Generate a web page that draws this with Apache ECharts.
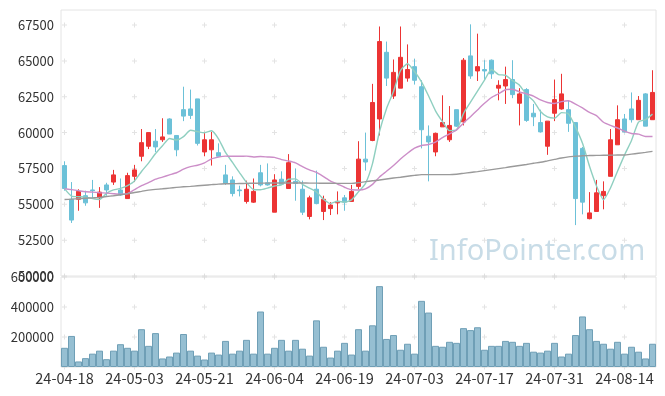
<!DOCTYPE html>
<html><head><meta charset="utf-8">
<script src="https://cdn.jsdelivr.net/npm/echarts@6/dist/echarts.min.js"></script>
<style>html,body{margin:0;padding:0;background:#fff}#c{width:665px;height:396px}</style>
</head><body><div id="c"></div>
<script>
const dates = ['24-04-18','24-04-19','24-04-22','24-04-23','24-04-24','24-04-25','24-04-26','24-04-29','24-04-30','24-05-02',
'24-05-03','24-05-07','24-05-08','24-05-09','24-05-10','24-05-13','24-05-14','24-05-16','24-05-17','24-05-20',
'24-05-21','24-05-22','24-05-23','24-05-24','24-05-27','24-05-28','24-05-29','24-05-30','24-05-31','24-06-03',
'24-06-04','24-06-05','24-06-07','24-06-10','24-06-11','24-06-12','24-06-13','24-06-14','24-06-17','24-06-18',
'24-06-19','24-06-20','24-06-21','24-06-24','24-06-25','24-06-26','24-06-27','24-06-28','24-07-01','24-07-02',
'24-07-03','24-07-04','24-07-05','24-07-08','24-07-09','24-07-10','24-07-11','24-07-12','24-07-15','24-07-16',
'24-07-17','24-07-18','24-07-19','24-07-22','24-07-23','24-07-24','24-07-25','24-07-26','24-07-29','24-07-30',
'24-07-31','24-08-01','24-08-02','24-08-05','24-08-06','24-08-07','24-08-08','24-08-09','24-08-12','24-08-13',
'24-08-14','24-08-16','24-08-19','24-08-20','24-08-21'];

const openP = [57700,55350,55350,55600,56000,55450,56350,56550,56000,55400,
56950,58350,59050,59400,59500,60950,59800,61600,61650,62350,
58650,58800,58600,57050,56700,56000,55200,55150,57200,56500,
54450,56750,56100,56600,56050,54150,56050,54500,54700,55100,
55450,55200,56250,58150,59450,60950,65600,62550,63100,63800,
64600,63200,59750,58650,60400,59500,61600,60750,65350,64300,
64400,65050,63100,63250,63700,62050,63000,61350,60700,59050,
61350,61650,61600,60700,58900,54000,54500,55600,56950,59150,
60950,61650,60900,62700,60900];
const closeP = [56100,53900,55900,55100,55950,55850,56000,57050,55650,57000,
57400,59300,60000,59000,59700,59900,58800,61150,61200,59250,
59500,59500,58350,56450,55750,55950,56050,55900,56350,56350,
56700,56400,57900,56450,54450,55450,55050,55350,54950,55200,
55150,55900,58150,57950,62100,66350,63800,64200,65250,64400,
63650,60200,59350,59950,60700,60500,60450,65050,63950,64600,
64300,64100,63300,63700,62650,62700,60850,61100,60050,60800,
62300,62700,60650,55400,55150,54400,55800,55900,59500,60900,
60050,60900,62250,60450,62800];
const lowP = [55950,53700,54550,54900,55400,54750,55600,56350,55600,55400,
56550,58000,58850,58650,59350,59900,58350,60800,60950,59100,
58350,57700,58350,56350,55550,55550,55050,55100,56250,56300,
54450,56400,56100,55250,54250,53950,55000,53900,54250,54300,
54550,55200,56050,57350,59400,59800,63250,62350,63100,63550,
63350,58900,56600,58350,60400,59350,60400,60500,63750,63600,
63650,63750,62250,62000,62400,60500,60750,60450,60000,58450,
60800,61600,60050,53550,54300,53950,54500,54650,56950,59150,
60000,60700,60900,60450,60900];
const highP = [58000,56550,56050,55950,56700,56200,56500,57400,56800,57200,
57750,60250,60000,60250,61000,61000,59800,63200,63000,62350,
60050,60050,59250,57750,56950,56300,56650,56800,57750,57850,
57100,57300,58500,57500,56650,55600,57350,55600,55150,55900,
55650,56350,59400,60000,63400,67400,66350,65100,67400,66150,
65150,63650,60500,60000,62600,61850,61600,65200,67550,66900,
65050,65100,63650,64600,65050,63100,63100,62000,61600,60800,
63700,64100,62200,60700,59000,55850,56700,56600,60250,61900,
61300,62800,62550,62750,64350];

const volume = [128000,207000,37000,59000,89000,109000,52000,109000,152000,128000,
109000,252000,141000,226000,57000,70000,96000,220000,109000,76000,
50000,96000,83000,174000,89000,109000,181000,89000,370000,89000,
128000,181000,109000,181000,122000,76000,311000,135000,63000,109000,
161000,83000,252000,109000,278000,539000,187000,213000,115000,155000,
89000,441000,363000,141000,135000,168000,161000,259000,246000,265000,
115000,141000,141000,174000,168000,141000,161000,102000,96000,109000,
161000,70000,89000,213000,337000,252000,174000,155000,122000,168000,
89000,135000,102000,57000,155000];

const ma5 = [56090,55570,55530,55500,55400,55340,55760,56000,56110,56310,
56630,57290,57870,58540,59090,59590,59480,59720,60160,60070,
59990,60130,59570,58620,57920,57210,56520,56030,56010,56130,
56280,56350,56750,56770,56390,56130,55860,55350,55050,55210,
55150,55310,55870,56460,57840,60080,61670,62870,64330,64800,
64260,63540,62570,61520,60770,60140,60190,61330,62120,62900,
63660,64400,64050,64000,63620,63310,62650,62210,61470,61090,
61010,61390,61300,60380,59250,57660,56280,55320,56140,57300,
58430,59450,60730,60910,61290];
const ma20 = [56090,56020,55950,55880,55850,55810,55780,55740,55710,55740,
56020,56300,56510,56750,56900,57050,57200,57450,57630,57720,
57890,58170,58290,58360,58350,58350,58360,58300,58330,58300,
58270,58120,58020,57890,57630,57400,57220,56930,56620,56410,
56190,56010,56000,56080,56390,56910,57300,57710,58160,58560,
58910,59100,59170,59340,59650,59910,60180,60660,61110,61580,
62040,62450,62710,62990,63020,62840,62700,62540,62280,62100,
62030,62160,62220,61990,61720,61410,61180,60720,60500,60320,
60100,59940,59890,59730,59730];
const ma60 = [55330,55360,55390,55420,55450,55480,55540,55600,55670,55730,
55820,55900,55990,56040,56080,56130,56180,56220,56250,56290,
56330,56370,56410,56430,56440,56450,56460,56470,56475,56480,
56485,56490,56490,56490,56485,56480,56475,56470,56465,56460,
56460,56460,56510,56580,56640,56690,56760,56830,56890,56960,
57020,57070,57070,57070,57070,57070,57100,57160,57220,57280,
57350,57420,57490,57560,57640,57710,57780,57860,57930,58030,
58130,58230,58310,58350,58390,58400,58410,58420,58430,58435,
58440,58500,58560,58620,58690];

const priceTicks = [50000,52500,55000,57500,60000,62500,65000,67500];
const volumeTicks = [0,200000,400000,600000];
const labelEvery = 10;

const FONT = '"Noto Sans CJK KR", "Noto Sans", sans-serif';
const candle = dates.map((d, i) => [openP[i], closeP[i], lowP[i], highP[i]]);
const crossCats = dates.map((d, i) => i).filter(i => i % labelEvery === 0);
const priceCross = [];
crossCats.forEach(c => priceTicks.forEach(v => priceCross.push([c, v])));
const volCross = [];
crossCats.forEach(c => volumeTicks.forEach(v => volCross.push([c, v])));

const crossSymbol = 'path://M2,0h1v5h-1z M0,2h5v1h-5z';
const chart = echarts.init(document.getElementById('c'), null, {renderer: 'canvas'});
chart.setOption({
  animation: false,
  backgroundColor: '#fff',
  textStyle: {fontFamily: FONT},
  graphic: [{
    type: 'text', left: 429, top: 237, z: 0, silent: true,
    style: {text: 'InfoPointer.com', font: '29px "Noto Sans"', fill: '#c8dce7'}
  }],
  grid: [
    {left: 61, right: 9, top: 10, height: 266, show: true, borderColor: '#e4e4e4', borderWidth: 1},
    {left: 61, right: 9, top: 277, height: 90, show: true, borderColor: '#e4e4e4', borderWidth: 1}
  ],
  xAxis: [
    {type: 'category', gridIndex: 0, data: dates, boundaryGap: true,
     axisLine: {show: false}, axisTick: {show: false}, axisLabel: {show: false}, splitLine: {show: false}},
    {type: 'category', gridIndex: 1, data: dates, boundaryGap: true,
     axisLine: {show: false}, axisTick: {show: false}, splitLine: {show: false},
     axisLabel: {interval: labelEvery - 1, color: '#333', fontSize: 14.5, margin: 4, fontFamily: FONT}}
  ],
  yAxis: [
    {type: 'value', gridIndex: 0, min: 50000, max: 68550, interval: 2500, scale: false,
     axisLine: {show: false}, axisTick: {show: false}, splitLine: {show: false},
     axisLabel: {color: '#333', fontSize: 13, margin: 7, fontFamily: FONT,
       formatter: v => priceTicks.indexOf(v) >= 0 ? String(v) : ''}},
    {type: 'value', gridIndex: 1, min: 0, max: 600000, interval: 200000,
     axisLine: {show: false}, axisTick: {show: false}, splitLine: {show: false},
     axisLabel: {color: '#333', fontSize: 13, margin: 7, fontFamily: FONT,
       formatter: v => (v > 0 && volumeTicks.indexOf(v) >= 0) ? String(v) : ''}}
  ],
  series: [
    {type: 'scatter', xAxisIndex: 0, yAxisIndex: 0, data: priceCross, symbol: crossSymbol, symbolSize: 5,
     itemStyle: {color: '#dcdcdc'}, silent: true, z: 1},
    {type: 'scatter', xAxisIndex: 1, yAxisIndex: 1, data: volCross, symbol: crossSymbol, symbolSize: 5,
     itemStyle: {color: '#dcdcdc'}, silent: true, z: 1},
    {type: 'candlestick', xAxisIndex: 0, yAxisIndex: 0, data: candle, barWidth: 5, z: 3,
     itemStyle: {color: '#ec3434', color0: '#6cc1d8', borderColor: '#ec3434', borderColor0: '#6cc1d8', borderWidth: 1}},
    {type: 'line', xAxisIndex: 0, yAxisIndex: 0, data: ma5, showSymbol: false, smooth: 0.2, z: 4,
     lineStyle: {color: '#8fcfc0', width: 1.4}},
    {type: 'line', xAxisIndex: 0, yAxisIndex: 0, data: ma20, showSymbol: false, smooth: 0.2, z: 4,
     lineStyle: {color: '#cc8ec8', width: 1.4}},
    {type: 'line', xAxisIndex: 0, yAxisIndex: 0, data: ma60, showSymbol: false, smooth: 0.2, z: 4,
     lineStyle: {color: '#9a9a9a', width: 1.4}},
    {type: 'bar', xAxisIndex: 1, yAxisIndex: 1, data: volume, barCategoryGap: '0%', z: 3,
     itemStyle: {color: '#96bfd2', borderColor: '#6f9fb6', borderWidth: 1}}
  ]
});
</script></body></html>
